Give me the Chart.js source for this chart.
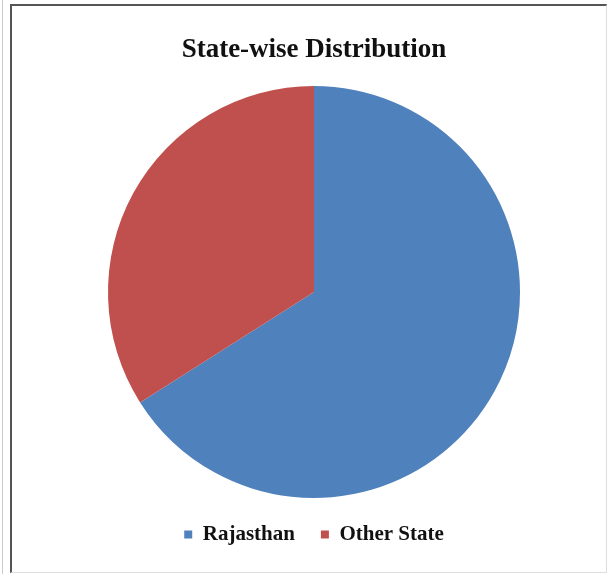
<!DOCTYPE html>
<html lang="en">
<head>
  <meta charset="UTF-8" />
  <title>State-wise Distribution</title>
  <script src="https://cdn.jsdelivr.net/npm/chart.js"></script>
  <style>
    html, body { margin: 0; padding: 0; background: #fff; }
    body { width: 613px; height: 574px; position: relative; overflow: hidden; }
    .outer { position: absolute; left: 2px; top: 0; width: 1px; height: 574px; background: #ccc; }
    .frame {
      position: absolute; left: 10px; top: 4px; width: 594px; height: 566px;
      border-left: 2px solid #555; border-top: 2px solid #555;
      border-right: 1px solid #ddd; border-bottom: 1px solid #ddd;
    }
    #chart-wrap { position: absolute; left: 0; top: 0; width: 613px; height: 574px; }
  </style>
</head>
<body>
  <div class="outer"></div>
  <div class="frame"></div>
  <div id="chart-wrap"><canvas id="pie"></canvas></div>

  <script>
    const states = ['Rajasthan', 'Other State'];
    const shares = [66, 34];
    const colours = ['#4F81BD', '#C0504D'];

    const serif = "'Liberation Serif', 'DejaVu Serif', serif";

    new Chart(document.getElementById('pie'), {
      type: 'pie',
      data: {
        labels: states,
        datasets: [{ data: shares, backgroundColor: colours, borderWidth: 0 }]
      },
      options: {
        responsive: true,
        maintainAspectRatio: false,
        animation: false,
        layout: { padding: { left: 15, right: 0, top: 0, bottom: 19 } },
        plugins: {
          title: {
            display: true,
            text: 'State-wise Distribution',
            color: '#111',
            font: { family: serif, size: 27, weight: 'bold' },
            padding: { top: 34, bottom: 19.6 }
          },
          legend: {
            position: 'bottom',
            labels: {
              color: '#111',
              font: { family: serif, size: 21, weight: 'bold' },
              boxWidth: 8,
              boxHeight: 8,
              padding: 26
            }
          },
          tooltip: { enabled: false }
        }
      }
    });
  </script>
</body>
</html>
